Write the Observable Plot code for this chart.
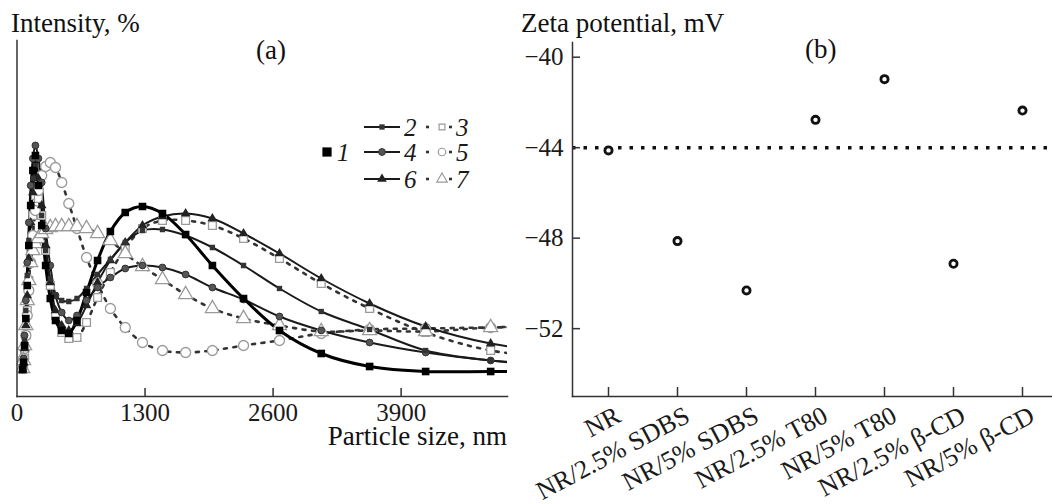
<!DOCTYPE html>
<html><head><meta charset="utf-8">
<script src="https://cdn.jsdelivr.net/npm/d3@7"></script>
<script src="https://cdn.jsdelivr.net/npm/@observablehq/plot@0.6"></script>
<style>
body{margin:0;background:#fff;}
#wrap{position:relative;width:1052px;height:504px;font-family:"Liberation Serif","Times New Roman",serif;color:#111;overflow:hidden;}
.lbl{position:absolute;font-size:27px;white-space:nowrap;line-height:1;}
#left{position:absolute;left:0;top:0;}
#right{position:absolute;left:520px;top:0;}
#left svg,#right svg{overflow:visible;}
#legend{position:absolute;left:0;top:0;pointer-events:none;}
</style></head><body>
<div id="wrap">
  <div id="left"></div>
  <div id="right"></div>
  <div class="lbl" style="left:11px;top:10px;">Intensity, %</div>
  <div class="lbl" style="left:256px;top:37px;">(a)</div>
  <div class="lbl" style="right:545px;top:423px;">Particle size, nm</div>
  <div class="lbl" style="left:521px;top:10px;">Zeta potential, mV</div>
  <div class="lbl" style="left:805px;top:36px;">(b)</div>
</div>
<script>
// ---------- data: panel (a) ----------
const sizes = [58, 67, 77, 90, 104, 120, 139, 161, 187, 217, 251, 291, 338, 391, 454, 526, 609, 706, 818, 948, 1099, 1274, 1477, 1712, 1984, 2300, 2665, 3089, 3580, 4149, 4809, 5574];
const series1 = [2.7,3.4,5.1,7.8,11.1,15.1,19.1,22.6,24.1,21.1,17.1,13.1,9.8,7.6,6.6,6.3,7.6,10.4,13.6,16.5,18.4,19.0,18.3,16.2,13.1,9.8,6.6,4.3,3.0,2.5,2.5,2.5];
const series2 = [2.7,3.6,5.6,8.6,12.1,15.6,19.1,21.8,23.1,21.1,18.1,14.6,11.8,10.1,9.6,9.5,9.8,10.8,12.2,13.7,15.4,16.6,16.7,16.1,14.9,13.1,10.8,8.5,6.7,4.6,3.6,3.0];
const series3 = [2.7,3.1,4.1,6.1,8.6,11.6,15.1,18.1,20.1,19.8,18.1,14.6,11.1,8.1,6.4,5.8,5.9,7.4,9.9,12.4,14.8,16.8,17.6,17.6,17.1,15.8,13.8,11.3,8.8,6.4,4.6,3.8];
const series4 = [2.7,3.8,6.1,9.6,13.4,17.4,21.1,23.8,25.1,23.8,21.4,16.8,13.1,10.1,8.4,7.6,8.1,9.6,10.9,11.9,12.8,13.1,12.9,12.2,10.9,9.7,8.0,6.6,5.4,4.4,3.6,3.1];
const series5 = [3.4,3.8,4.8,6.1,8.1,10.6,13.4,16.1,18.6,20.6,22.1,23.0,23.4,22.9,21.4,19.3,16.8,13.9,11.3,8.8,6.9,5.4,4.6,4.4,4.6,5.1,5.6,6.3,6.7,6.8,6.9,7.0];
const series6 = [2.7,3.4,4.8,7.1,10.1,13.8,17.4,20.4,22.1,21.8,19.1,15.1,11.4,8.6,7.1,6.6,7.3,9.1,11.4,13.6,15.4,17.1,18.0,18.3,17.8,16.3,14.3,11.8,9.3,7.0,5.3,4.4];
const series7 = [2.8,3.6,5.1,7.1,9.6,11.6,13.4,14.6,15.3,15.8,16.3,16.7,16.9,17.0,17.0,17.0,17.0,16.8,16.3,15.6,14.3,13.0,11.7,10.2,8.8,7.8,7.1,6.5,6.6,6.5,6.9,7.1];
const seriesNames = ["1","2","3","4","5","6","7"];
const sizeTicks = [0, 1300, 2600, 3900];

// ---------- data: panel (b) ----------
const samples = ["NR","NR/2.5% SDBS","NR/5% SDBS","NR/2.5% T80","NR/5% T80","NR/2.5% β-CD","NR/5% β-CD"];
const zeta = [-44.12, -48.13, -50.31, -42.77, -40.97, -49.13, -42.36];
const referenceZeta = -44;
const zetaTicks = [-40, -44, -48, -52];

// ---------- build tables ----------
const allSeries = {"1":series1,"2":series2,"3":series3,"4":series4,"5":series5,"6":series6,"7":series7};
const rows = [];
for (const n of seriesNames) allSeries[n].forEach((v,i)=>rows.push({series:n,size:sizes[i],intensity:v}));
const sel = n => rows.filter(d=>d.series===n);
const zetaRows = samples.map((s,i)=>({sample:s, zeta:zeta[i]}));

const FONT = "Liberation Serif, Times New Roman, serif";
const ink = "#1a1a1a";

const style = {
  solid: {
    "1": {stroke:"#000", sw:3, symbol:"square", r:4.3, fill:"#000", mstroke:"none"},
    "2": {stroke:ink, sw:2, symbol:"square", r:3.0, fill:"#333", mstroke:"none"},
    "4": {stroke:ink, sw:2, symbol:"circle", r:3.4, fill:"#555", mstroke:"#333"},
    "6": {stroke:ink, sw:2, symbol:"triangle", r:3.6, fill:"#222", mstroke:"none"}
  },
  dotted: {
    "3": {symbol:"square", r:4.4},
    "5": {symbol:"circle", r:5.0},
    "7": {symbol:"triangle", r:5.2}
  }
};

// ---------- panel (a) ----------
const LW = 520, LH = 504, LT = 40, LB = 108;
const lineMarks = [];
const dotMarks = [];
for (const n of ["3","5","7"]) {
  lineMarks.push(Plot.line(sel(n), {x:"size", y:"intensity", curve:"catmull-rom", stroke:"#333", strokeWidth:2.6, strokeDasharray:"3 6.5", clip:true}));
  const s = style.dotted[n];
  dotMarks.push(Plot.dot(sel(n), {x:"size", y:"intensity", symbol:s.symbol, r:s.r, fill:"white", stroke:"#9a9a9a", strokeWidth:1.3, clip:true}));
}
for (const n of ["6","4","2","1"]) {
  const s = style.solid[n];
  lineMarks.push(Plot.line(sel(n), {x:"size", y:"intensity", curve:"catmull-rom", stroke:s.stroke, strokeWidth:s.sw, clip:true}));
  dotMarks.push(Plot.dot(sel(n), {x:"size", y:"intensity", symbol:s.symbol, r:s.r, fill:s.fill, stroke:s.mstroke, strokeWidth:1, clip:true}));
}

const left = Plot.plot({
  width: LW, height: LH,
  marginLeft: 16.5, marginRight: 13, marginTop: LT, marginBottom: LB,
  style: {fontFamily: FONT, fontSize: "25px", background: "transparent", color: ink},
  x: {domain: [0, 4980], label: null, axis: null},
  y: {domain: [0, 35.6], label: null, axis: null},
  marks: [
    ...lineMarks,
    ...dotMarks,
    Plot.frame({anchor: "left", stroke: "#333", strokeWidth: 1.5}),
    Plot.frame({anchor: "bottom", stroke: "#333", strokeWidth: 1.5}),
    Plot.tickX(sizeTicks.slice(1), {x: d=>d, insetTop: LH-LT-LB-8, stroke: "#333", strokeWidth: 1.5}),
    Plot.axisX(sizeTicks, {tickSize: 0, tickPadding: 7, tickFormat: d=>String(d), fontSize: 25, fontFamily: FONT, label: null})
  ]
});
document.getElementById("left").appendChild(left);

// legend overlay (panel a)
const lg = d3.select("#wrap").append("svg").attr("id","legend").attr("width",520).attr("height",504);
const legRows = [
  {cy:127, solid:"2", dotted:"3"},
  {cy:152, solid:"4", dotted:"5"},
  {cy:179, solid:"6", dotted:"7"}
];
function sym(g, type, cx, cy, r, fill, stroke, sw) {
  const p = d3.symbol(type==="square"?d3.symbolSquare:type==="circle"?d3.symbolCircle:d3.symbolTriangle, Math.PI*r*r)();
  g.append("path").attr("d",p).attr("transform",`translate(${cx},${cy})`).attr("fill",fill).attr("stroke",stroke).attr("stroke-width",sw);
}
for (const row of legRows) {
  const s = style.solid[row.solid], d = style.dotted[row.dotted];
  lg.append("line").attr("x1",364).attr("x2",400).attr("y1",row.cy).attr("y2",row.cy).attr("stroke",s.stroke).attr("stroke-width",2);
  sym(lg, s.symbol, 382, row.cy, s.r, s.fill, s.mstroke, 1);
  lg.append("text").attr("x",404).attr("y",row.cy+8.5).text(row.solid).attr("font-family",FONT).attr("font-style","italic").attr("font-size",25).attr("fill",ink);
  lg.append("line").attr("x1",426).attr("x2",429).attr("y1",row.cy).attr("y2",row.cy).attr("stroke","#333").attr("stroke-width",2.6);
  sym(lg, d.symbol, 442, row.cy, d.r*0.75, "white", "#9a9a9a", 1.2);
  lg.append("line").attr("x1",449).attr("x2",452).attr("y1",row.cy).attr("y2",row.cy).attr("stroke","#333").attr("stroke-width",2.6);
  lg.append("text").attr("x",456).attr("y",row.cy+8.5).text(row.dotted).attr("font-family",FONT).attr("font-style","italic").attr("font-size",25).attr("fill",ink);
}
sym(lg, "square", 327, 152, 5.2, "#000", "none", 0);
lg.append("text").attr("x",337).attr("y",160.5).text("1").attr("font-family",FONT).attr("font-style","italic").attr("font-size",25).attr("fill",ink);

// ---------- panel (b) ----------
const RW = 532, RH = 504, RT = 42, RB = 108, RL = 52;
const right = Plot.plot({
  width: RW, height: RH,
  marginLeft: RL, marginRight: 0, marginTop: RT, marginBottom: RB,
  style: {fontFamily: FONT, fontSize: "25px", background: "transparent", color: ink},
  x: {type: "point", domain: samples, range: [87, 502], padding: 0, label: null, axis: null},
  y: {domain: [-55, -39.35], label: null},
  marks: [
    Plot.ruleY([referenceZeta], {stroke: "#111", strokeWidth: 3.5, strokeDasharray: "3.5 8"}),
    Plot.frame({anchor: "left", stroke: "#333", strokeWidth: 1.5}),
    Plot.frame({anchor: "bottom", stroke: "#333", strokeWidth: 1.5}),
    Plot.tickY(zetaTicks, {y: d=>d, insetRight: RW-RL-8, stroke: "#333", strokeWidth: 1.5}),
    Plot.tickX(samples, {x: d=>d, insetTop: RH-RT-RB-9, stroke: "#333", strokeWidth: 1.5}),
    Plot.axisY(zetaTicks, {tickSize: 0, tickPadding: 9, fontSize: 25, fontFamily: FONT, label: null}),
    Plot.text(samples, {x: d=>d, text: d=>d, frameAnchor: "bottom", rotate: -28, textAnchor: "end", lineAnchor: "middle", dx: 10, dy: 17, fontSize: 26, fontFamily: FONT, fill: ink}),
    Plot.dot(zetaRows, {x: "sample", y: "zeta", r: 3.6, stroke: "#111", strokeWidth: 2.8, fill: "white"})
  ]
});
document.getElementById("right").appendChild(right);
</script>
</body></html>
